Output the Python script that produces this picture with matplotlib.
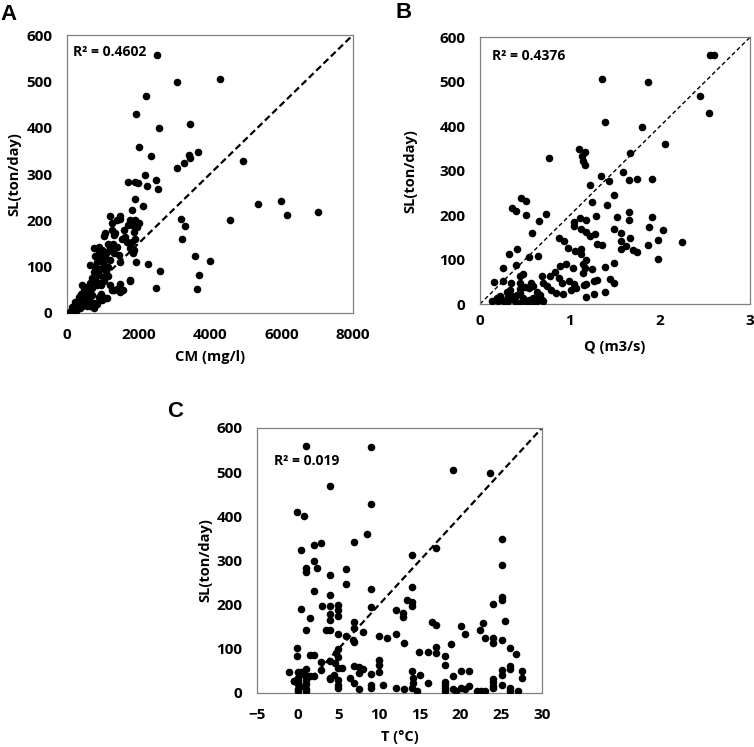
import numpy as np
import matplotlib.pyplot as plt

plt.rcParams['font.family'] = ['Open Sans', 'DejaVu Sans']
plt.rcParams['font.weight'] = 'bold'

# panel A: CM (mg/l) vs SL (ton/day)
cm = [2512, 3088, 4288, 2214, 1944, 2567, 3433, 2028, 2353, 3665, 3405, 3451, 3284, 3088, 4940,
      2177, 2484, 1702, 1907, 1981, 2233, 2540, 1907, 2121, 1814, 1479, 5358, 6000, 6149, 7033,
      4558, 3191, 3302, 3228, 3572, 4000, 3693, 3647, 2493, 2614, 2270, 1935, 1758, 1488, 1553,
      1321, 1107,
      1259, 1398, 1491, 1072, 1026, 1305, 1352, 1818, 2005, 1865, 1771, 1631, 1678, 1818, 1771,
      1865, 747, 886, 979, 1119, 1212, 1305, 1398, 793, 933, 1072, 1212, 1445, 1491, 653, 793,
      933, 1026, 747, 886, 1026, 793, 420, 559, 653, 467, 606, 699, 513, 327, 233, 373, 140,
      280, 93, 187, 886, 979, 793, 1072, 747, 1259, 1398, 1491, 1771, 1026,
      600, 450, 550, 650, 700, 850, 950, 1100, 1150, 1000, 850, 1150, 900, 1250, 1600, 1700,
      1950, 1900, 1550, 1900, 200, 300, 400, 500, 350, 250, 120, 700, 1200, 1300, 1200, 1850,
      1150, 950, 650, 500, 400, 850]
sl_a = [558, 499, 505, 468, 429, 399, 409, 359, 339, 347, 341, 334, 323, 312, 328,
        298, 288, 282, 282, 281, 275, 267, 246, 230, 222, 210, 236, 241, 212, 217,
        201, 203, 188, 160, 124, 113, 82, 51, 54, 90, 106, 110, 70, 63, 49,
        50, 32,
        195, 201, 204, 172, 166, 168, 172, 190, 194, 175, 201, 165, 154, 154, 140,
        136, 140, 143, 136, 132, 140, 129, 143, 122, 118, 122, 114, 125, 111, 104, 100,
        96, 104, 89, 82, 78, 71, 60, 57, 64, 50, 46, 39, 35, 35, 24, 21, 14,
        10, 3, 6, 35, 28, 21, 32, 10, 50, 51, 46, 71, 68,
        30, 20, 15, 25, 55, 60, 60, 90, 100, 110, 110, 150, 130, 180, 180, 190,
        185, 200, 160, 160, 15, 20, 40, 45, 10, 5, 5, 75, 60, 150, 210, 130,
        80, 40, 15, 25, 12, 20]

# panel B: Q (m3/s) vs SL
q = [2.56, 2.60, 2.45, 2.55, 1.36, 1.87, 1.39, 1.80, 2.06, 1.67, 1.10, 1.17, 1.13, 1.14, 1.17,
     0.77, 1.59, 1.34, 1.43, 1.66, 1.74, 1.91, 1.22, 1.49, 1.25, 1.41, 0.46, 0.51, 0.36, 0.40,
     0.51, 0.73, 0.66, 0.58, 1.66, 1.52, 1.66, 1.91, 1.11, 1.18, 1.04, 1.04, 1.12, 1.18, 1.22,
     1.29, 1.28, 1.49, 1.57, 1.67, 1.57, 1.57, 1.62, 1.88, 2.03, 1.98, 2.25, 1.87, 1.98, 1.30,
     1.36, 1.70, 1.75, 0.88, 0.93, 0.98, 1.06, 1.12, 1.12, 1.18, 1.15, 1.17, 1.25, 1.39, 1.15,
     1.03, 0.96, 0.89, 0.83, 0.78, 0.69, 0.88, 0.91, 0.99, 1.04, 1.07, 1.01, 0.92, 1.16, 1.18,
     1.27, 1.30, 1.27, 1.18, 1.44, 1.49, 1.49, 1.39, 0.70, 0.74, 0.79, 0.85, 0.59, 0.63, 0.67,
     0.69, 0.65, 0.59, 0.54, 0.48, 0.44, 0.41, 0.44, 0.50, 0.44, 0.57, 0.54, 0.48, 0.45, 0.40,
     0.41, 0.32, 0.65, 0.54, 0.26, 0.26, 0.16, 0.35, 0.33, 0.31, 0.36, 0.22, 0.19, 0.20, 0.25,
     0.28, 0.13, 0.31, 0.39, 0.43, 0.51, 0.56, 0.59, 0.63, 0.70, 0.30]
sl_b = [560, 561, 469, 429, 506, 499, 409, 399, 360, 339, 348, 342, 332, 322, 312,
        328, 297, 288, 276, 280, 282, 282, 267, 246, 230, 222, 238, 231, 216, 210,
        200, 202, 187, 159, 208, 196, 188, 195, 193, 190, 184, 175, 169, 162, 152,
        198, 158, 169, 160, 148, 141, 124, 131, 174, 166, 143, 139, 133, 102, 135,
        132, 122, 117, 148, 141, 125, 120, 124, 113, 100, 90, 81, 79, 83, 70,
        82, 91, 85, 73, 63, 64, 58, 48, 52, 46, 37, 31, 23, 42, 46,
        52, 53, 23, 15, 57, 47, 92, 28, 47, 40, 32, 25, 40, 28, 21,
        10, 13, 6, 10, 13, 25, 21, 34, 38, 47, 47, 35, 67, 64, 87,
        124, 112, 109, 105, 80, 52, 49, 47, 31, 19, 17, 17, 13, 6, 10,
        4, 6, 6, 6, 2, 5, 1, 13, 6, 6, 28]

# panel C: T (°C) vs SL
t = [0.99, 8.97, 3.99, 8.97, 19.06, 23.67, -0.08, 0.78, 8.52, 6.96, 2.92, 1.98, 0.45, 17.04,
     25.07, 25.07, 1.98, 0.99, 0.99, 2.43, 3.99, 5.97, 5.97, 9.02, 14.0, 14.0, 1.98, 3.99,
     4.98, 4.98, 4.98, 0.45, 1.48, 3.99, 3.99, 3.99, 2.96, 0.99, 3.45, 3.91, 9.02, 6.96, 6.96,
     7.99, 12.02, 12.97, 12.97, 13.47, 14.0, 14.0, 16.5, 17.04, 22.4, 22.78, 23.97, 25.07,
     25.07, 25.5, 20.05, 20.5, 18.86, 23.0, 23.97, 23.97, 25.07, 26.06, 26.84, 4.98, 5.97,
     6.8, 6.96, 10.0, 10.99, 12.02, 13.0, -0.08, -0.08, 1.48, 1.98, 4.98, 4.98, 4.65, 2.92,
     3.91, 4.57, 10.0, 10.0, 14.9, 15.98, 17.04, 17.04, 18.03, 18.03, -1.03, -0.5, 0.0, 0.0,
     0.2, 0.6, 0.99, 0.99, 1.52, 1.98, 2.92, 3.99, 3.99, 4.49, 4.98, 5.48, 4.98, 4.98, 4.98,
     6.46, 6.96, 7.49, 7.99, 7.49, 6.88, 7.49, 9.02, 9.02, 9.02, 10.0, 10.5, 12.02, 13.0,
     14.0, 14.2, 14.2, 14.0, 14.6, 15.0, 15.98, 18.03, 18.03, 18.03, 18.03, 19.02, 19.02,
     19.4, 20.05, 20.05, 20.5, 21.04, 21.04, 22.0, 22.5, 23.0, 23.97, 23.97, 23.97, 23.97,
     25.07, 25.07, 25.07, 26.06, 26.06, 26.06, 26.06, 27.05, 27.5, 27.5,
     0.0, 0.0, 0.0, 0.0, 0.3, 0.99, 0.99, 0.99, 0.99, -0.5, 0.4, 0.6]
sl_c = [560, 557, 468, 428, 505, 498, 409, 400, 359, 342, 339, 334, 323, 328,
        348, 289, 298, 282, 275, 282, 268, 281, 247, 236, 312, 241, 230, 222,
        200, 188, 175, 191, 169, 197, 179, 165, 197, 143, 142, 142, 195, 160, 148,
        139, 188, 181, 171, 211, 205, 196, 161, 154, 143, 158, 201, 218,
        211, 164, 151, 133, 110, 125, 124, 113, 119, 102, 89, 133, 128,
        120, 116, 130, 124, 134, 114, 102, 83, 86, 86, 99, 81, 90, 71,
        72, 69, 75, 64, 93, 92, 105, 90, 83, 64, 48, 28, 28, 47,
        43, 47, 55, 38, 38, 38, 53, 35, 32, 41, 56, 57, 29, 19, 11,
        35, 60, 59, 55, 45, 23, 9, 43, 19, 11, 47, 18, 11, 8,
        50, 34, 23, 11, 5, 41, 23, 26, 19, 11, 4, 38, 8,
        4, 49, 11, 8, 50, 15, 4, 5, 5, 32, 24, 15, 11,
        53, 41, 19, 62, 54, 11, 4, 4, 50, 33,
        10, 20, 35, 5, 15, 10, 20, 30, 5, 28, 47, 43]

r2_a = 'R² = 0.4602'
r2_b = 'R² = 0.4376'
r2_c = 'R² = 0.019'

fig = plt.figure(figsize=(7.54, 7.47), dpi=100)
axA = fig.add_axes([0.0889, 0.581, 0.379, 0.372])
axB = fig.add_axes([0.6366, 0.593, 0.358, 0.357])
axC = fig.add_axes([0.3408, 0.0723, 0.378, 0.3548])

def style(ax, xpad):
    for s in ax.spines.values():
        s.set_color('#808080')
        s.set_linewidth(0.9)
    ax.tick_params(length=0, labelsize=11)
    ax.tick_params(axis='x', pad=xpad)
    ax.tick_params(axis='y', pad=10.5)
    for lab in ax.get_xticklabels() + ax.get_yticklabels():
        lab.set_fontweight('bold')
    ax.set_ylim(0, 600)
    ax.set_yticks(range(0, 601, 100))

# A
axA.scatter(cm, sl_a, s=30, color='black', zorder=3, linewidths=0)
axA.plot([0, 8000], [0, 600], color='black', ls=(0, (3, 1.6)), lw=1.6)
axA.set_xlim(0, 8000)
axA.set_xticks(range(0, 8001, 2000))
style(axA, 10.5)
axA.set_xlabel('CM (mg/l)', fontsize=10.5, fontweight='bold', labelpad=6)
axA.set_ylabel('SL(ton/day)', fontsize=10.5, fontweight='bold', labelpad=4)
axA.text(0.02, 0.94, r2_a, transform=axA.transAxes, fontsize=10, fontweight='bold', va='center')

# B
axB.scatter(q, sl_b, s=30, color='black', zorder=3, linewidths=0)
axB.plot([0, 3], [0, 600], color='black', ls=(0, (3, 2)), lw=1.0)
axB.set_xlim(0, 3)
axB.set_xticks([0, 1, 2, 3])
style(axB, 7.5)
axB.set_xlabel('Q (m3/s)', fontsize=10.5, fontweight='bold', labelpad=8)
axB.set_ylabel('SL(ton/day)', fontsize=10.5, fontweight='bold', labelpad=16)
axB.text(0.045, 0.93, r2_b, transform=axB.transAxes, fontsize=10, fontweight='bold', va='center')

# C
axC.scatter(t, sl_c, s=30, color='black', zorder=3, linewidths=0)
axC.plot([0, 30], [0, 600], color='black', ls=(0, (3, 1.6)), lw=1.6)
axC.set_xlim(-5, 30)
axC.set_xticks(range(-5, 31, 5))
style(axC, 10.5)
axC.set_xlabel('T (°C)', fontsize=10.5, fontweight='bold', labelpad=6)
axC.set_ylabel('SL(ton/day)', fontsize=10.5, fontweight='bold', labelpad=3)
axC.text(0.06, 0.875, r2_c, transform=axC.transAxes, fontsize=10, fontweight='bold', va='center')

fig.text(0.0, 0.995, 'A', fontsize=16, fontweight='bold', family='Liberation Sans', va='top')
fig.text(0.525, 0.997, 'B', fontsize=16, fontweight='bold', family='Liberation Sans', va='top')
fig.text(0.222, 0.463, 'C', fontsize=16, fontweight='bold', family='Liberation Sans', va='top')

fig.savefig('out.png', dpi=100)
